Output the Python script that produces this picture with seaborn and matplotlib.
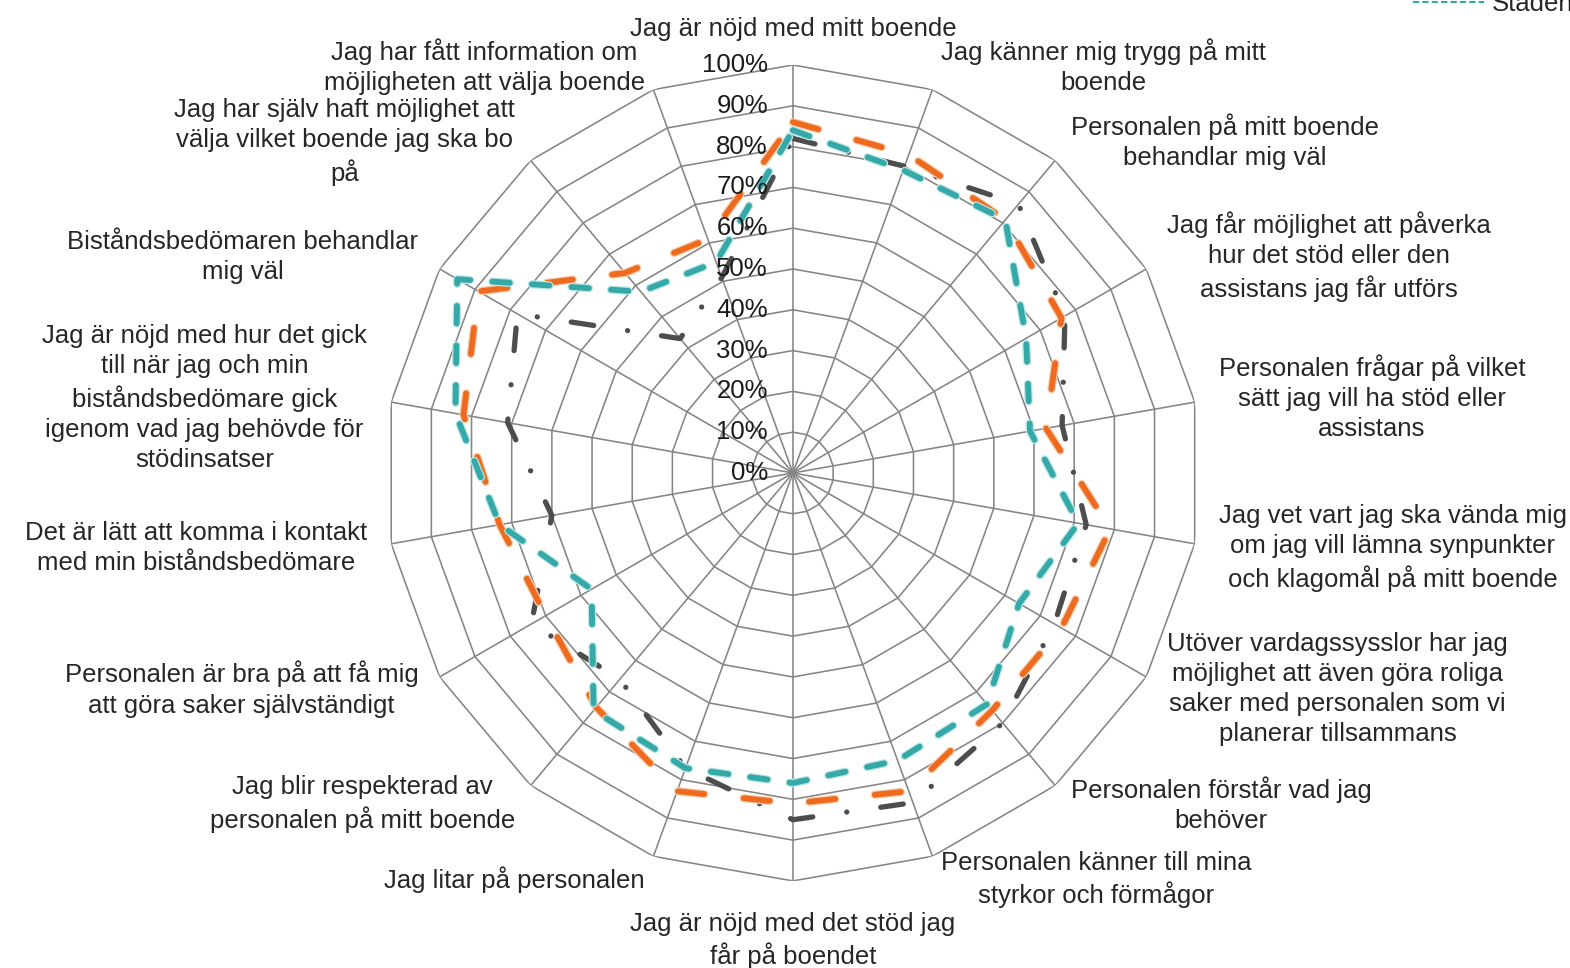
import numpy as np
import pandas as pd
import matplotlib
matplotlib.use("Agg")
import matplotlib.pyplot as plt
import matplotlib.patheffects as pe
from matplotlib.lines import Line2D
from matplotlib.transforms import offset_copy
import seaborn as sns

# Frågorna i enkäten, medurs från toppen
fragor = [
    "Jag är nöjd med mitt boende",
    "Jag känner mig trygg på mitt\nboende",
    "Personalen på mitt boende\nbehandlar mig väl",
    "Jag får möjlighet att påverka\nhur det stöd eller den\nassistans jag får utförs",
    "Personalen frågar på vilket\nsätt jag vill ha stöd eller\nassistans",
    "Jag vet vart jag ska vända mig\nom jag vill lämna synpunkter\noch klagomål på mitt boende",
    "Utöver vardagssysslor har jag\nmöjlighet att även göra roliga\nsaker med personalen som vi\nplanerar tillsammans",
    "Personalen förstår vad jag\nbehöver",
    "Personalen känner till mina\nstyrkor och förmågor",
    "Jag är nöjd med det stöd jag\nfår på boendet",
    "Jag litar på personalen",
    "Jag blir respekterad av\npersonalen på mitt boende",
    "Personalen är bra på att få mig\natt göra saker självständigt",
    "Det är lätt att komma i kontakt\nmed min biståndsbedömare",
    "Jag är nöjd med hur det gick\ntill när jag och min\nbiståndsbedömare gick\nigenom vad jag behövde för\nstödinsatser",
    "Biståndsbedömaren behandlar\nmig väl",
    "Jag har själv haft möjlighet att\nvälja vilket boende jag ska bo\npå",
    "Jag har fått information om\nmöjligheten att välja boende",
]

# Andel positiva svar (%) per serie
serie_gra = [82, 80, 86, 77, 67, 73, 74, 80, 86, 85, 77, 66, 74, 60, 71, 78, 43, 51]
serie_orange = [86, 83, 81, 76, 63, 79, 76, 76, 83, 81, 83, 75, 70, 73, 82, 89, 64, 61]
serie_turkos = [84, 79, 81, 66, 59, 71, 64, 74, 75, 76, 77, 76, 57, 73, 84, 95, 58, 55]
legend_text = "Staden"

ringar = np.arange(10, 101, 10)
skala_text = [f"{r}%" for r in range(0, 101, 10)]

sns.set_style("white")
plt.rcParams["font.family"] = ["Liberation Sans", "DejaVu Sans"]
plt.rcParams["font.size"] = 18.5

fig = plt.figure(figsize=(15.7, 9.68), dpi=100)
ax = fig.add_axes([0.2452, 0.0899, 0.5197, 0.843], projection="polar")
ax.set_theta_zero_location("N")
ax.set_theta_direction(-1)

n = len(fragor)
vinklar = np.arange(n) * 2 * np.pi / n
vinklar_slutna = np.append(vinklar, 2 * np.pi)

# Rutnät som i Excel: månghörningar och ekrar
gridfarg = "#858585"
for r in ringar:
    ax.plot(vinklar_slutna, [r] * (n + 1), color=gridfarg, lw=1.15, zorder=1)
for v in vinklar:
    ax.plot([v, v], [0, 100], color=gridfarg, lw=1.15, zorder=1)

# Serierna
serier = [
    (serie_gra, "#4d4d4d", (0, (4.3, 6.5, 0.01, 6.5)), 3.8, None),
    (serie_orange, "#ee6a1f", (0, (4.5, 6.8)), 4.2, "#f8cfae"),
    (serie_turkos, "#35a8a8", (0, (3.0, 3.8)), 4.2, "#bde7e7"),
]
for varden, farg, streck, lw, halo in serier:
    df = pd.DataFrame({"vinkel": vinklar_slutna, "andel": np.append(varden, varden[0])})
    effekter = None
    if halo:
        effekter = [pe.Stroke(linewidth=lw + 1.8, foreground=halo), pe.Normal()]
    sns.lineplot(data=df, x="vinkel", y="andel", ax=ax, sort=False, estimator=None,
                 color=farg, linewidth=lw, linestyle=streck, dash_capstyle="round",
                 path_effects=effekter, zorder=3)

ax.set_ylim(0, 100)
ax.grid(False)
ax.spines["polar"].set_visible(False)
ax.set_xticks([])
ax.set_yticks([])
ax.set_xlabel("")
ax.set_ylabel("")
ax.patch.set_visible(False)

# Skala längs den översta ekern
skala_trans = offset_copy(ax.transData, fig=fig, x=-25, y=0, units="dots")
for r, txt in zip(range(0, 101, 10), skala_text):
    ax.text(0, r, txt, transform=skala_trans, ha="right", va="center", color="#1a1a1a")

# Kategorietiketter runt diagrammet
rad = 1.32
for v, txt in zip(vinklar, fragor):
    grad = np.rad2deg(v)
    if np.isclose(grad, 0):
        ax.text(v, 106, txt, ha="center", va="bottom", multialignment="center", linespacing=rad)
    elif np.isclose(grad, 180):
        ax.text(v, 107.5, txt, ha="center", va="top", multialignment="center", linespacing=rad)
    elif grad < 180:
        ax.text(v, 106, txt, ha="left", va="center", multialignment="center", linespacing=rad)
    else:
        ax.text(v, 106, txt, ha="right", va="center", multialignment="center", linespacing=rad)

# Förklaring, bara sista raden syns i övre högra hörnet
handtag = Line2D([], [], color="#35a8a8", lw=1.5, linestyle=(0, (3, 1.5)))
fig.legend(handles=[handtag], labels=[legend_text], loc="center left",
           bbox_to_anchor=(1413 / 1570, 1 - 4 / 968), frameon=False, fontsize=18.5,
           handlelength=2.75, handletextpad=0.3, borderpad=0, borderaxespad=0)

fig.savefig("out.png", dpi=100)
